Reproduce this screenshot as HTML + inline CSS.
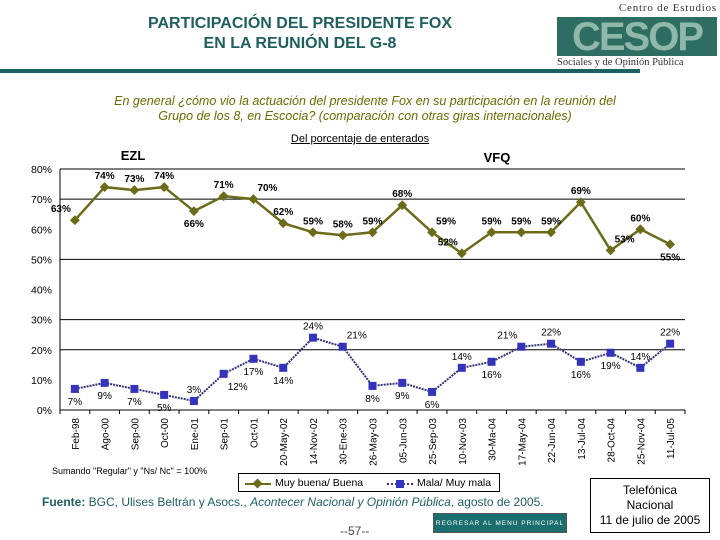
<!DOCTYPE html>
<html><head><meta charset="utf-8"><style>
body{margin:0;width:720px;height:540px;background:#fff;position:relative;overflow:hidden;font-family:"Liberation Sans",sans-serif}
.a{position:absolute}
</style></head><body>
<div class="a" style="left:60px;top:14px;width:480px;text-align:center;color:#1f5f5f;font-weight:bold;font-size:16px;line-height:20px">PARTICIPACIÓN DEL PRESIDENTE FOX<br>EN LA REUNIÓN DEL G-8</div>
<div class="a" style="left:557px;top:2px;width:160px;height:68px">
 <div style="font-family:'Liberation Serif',serif;font-size:11px;color:#333;letter-spacing:0.8px;text-align:right;line-height:13px">Centro de Estudios</div>
 <div style="background:#2e6e62;height:39px;margin-top:2px;color:#8fb8aa;font-weight:bold;font-size:40px;line-height:40px;text-align:center;letter-spacing:-2px">CESOP</div>
 <div style="font-family:'Liberation Serif',serif;font-size:10.5px;color:#333;margin-top:1px;white-space:nowrap">Sociales y de Opinión Pública</div>
</div>
<div class="a" style="left:0;top:69px;width:640px;height:4px;background:#1a6060"></div>
<div class="a" style="left:30px;top:94px;width:670px;text-align:center;color:#6b6b00;font-style:italic;font-size:12.5px;line-height:15px">En general ¿cómo vio la actuación del presidente Fox en su participación en la reunión del<br>Grupo de los 8, en Escocia? (comparación con otras giras internacionales)</div>
<div class="a" style="left:200px;top:133px;width:320px;text-align:center;font-size:11px;text-decoration:underline">Del porcentaje de enterados</div>
<svg class="a" style="left:0;top:0" width="720" height="540" id="chart"></svg>
<div class="a" style="left:52px;top:466px;font-size:9px">Sumando "Regular" y "Ns/ Nc" = 100%</div>
<div class="a" style="left:238px;top:473px;width:262px;height:19px;border:1px solid #000;font-size:10.5px;line-height:19px;box-sizing:border-box">
 <span class="a" style="left:6px;top:9px;width:26px;height:2px;background:#6b6b1a"></span><span class="a" style="left:15px;top:6px;width:7px;height:7px;background:#6b6b1a;transform:rotate(45deg)"></span>
 <span class="a" style="left:36px;top:0">Muy buena/ Buena</span>
 <span class="a" style="left:148px;top:9px;width:26px;border-top:2px dotted #333399"></span><span class="a" style="left:157px;top:6px;width:8px;height:8px;background:#3333bb"></span>
 <span class="a" style="left:178px;top:0">Mala/ Muy mala</span>
</div>
<div class="a" style="left:42px;top:495px;font-size:12px;color:#1f5f5f"><b>Fuente:</b> BGC, Ulises Beltrán y Asocs., <i>Acontecer Nacional y Opinión Pública</i>, agosto de 2005.</div>
<div class="a" style="left:340px;top:524px;font-size:12px;color:#444">--57--</div>
<div class="a" style="left:433px;top:513px;width:134px;height:20px;background:#1a6e6e;border:1px solid #555;color:#fff;font-size:6.5px;letter-spacing:1px;text-align:center;line-height:20px;box-sizing:border-box">REGRESAR AL MENU PRINCIPAL</div>
<div class="a" style="left:590px;top:478px;width:120px;height:55px;border:1px solid #000;box-sizing:border-box;text-align:center;font-size:12px;line-height:15px;padding-top:4px">Telefónica<br>Nacional<br>11 de julio de 2005</div>
<script>
const categories=["Feb-98","Ago-00","Sep-00","Oct-00","Ene-01","Sep-01","Oct-01","20-May-02","14-Nov-02","30-Ene-03","26-May-03","05-Jun-03","25-Sep-03","10-Nov-03","30-Ma-04","17-May-04","22-Jun-04","13-Jul-04","28-Oct-04","25-Nov-04","11-Jul-05"];
const goodValues=[63,74,73,74,66,71,70,62,59,58,59,68,59,52,59,59,59,69,53,60,55];
const badValues=[7,9,7,5,3,12,17,14,24,21,8,9,6,14,16,21,22,16,19,14,22];
const goodLabelPos=["al","a","a","a","b","a","ar","a","a","a","a","a","ar","al","a","a","a","a","ar","a","b"];
const badLabelPos=["b","b","b","b","a","br","b","b","a","ar","b","b","b","a","b","al","a","b","b","a","a"];
const yTicks=[0,10,20,30,40,50,60,70,80];
const gridValues=[20,30,50,70,80];
const svg=document.getElementById('chart');
const NS='http://www.w3.org/2000/svg';
const L=60,R=685,T=169,B=410;
const step=(R-L)/categories.length;
const x=i=>L+step*(i+0.5);
const y=v=>B-(B-T)*v/80;
function mk(t,a,txt){const e=document.createElementNS(NS,t);for(const k in a)e.setAttribute(k,a[k]);if(txt!=null)e.textContent=txt;svg.appendChild(e);return e;}
gridValues.forEach(v=>{const g=mk('line',{x1:L,x2:R,y1:y(v),y2:y(v),stroke:'#000','stroke-width':1});

});
const ax=mk('line',{x1:L,x2:L,y1:T,y2:B,stroke:'#000'});


const xa=mk('line',{x1:L,x2:R,y1:B,y2:B,stroke:'#000'});


yTicks.forEach(v=>{const t=mk('text',{x:L-8,y:y(v)+4,'text-anchor':'end','font-size':10.5},v+'%');

});
for(let i=0;i<=categories.length;i++){mk('line',{x1:L+step*i,x2:L+step*i,y1:B,y2:B+4,stroke:'#000'});}
categories.forEach((c,i)=>{const t=mk('text',{x:0,y:0,'text-anchor':'end','font-size':10,transform:`translate(${x(i)+4},418) rotate(-90)`},c);

});
mk('text',{x:133,y:160,'text-anchor':'middle','font-size':13,'font-weight':'bold'},'EZL');
mk('text',{x:497,y:162,'text-anchor':'middle','font-size':13,'font-weight':'bold'},'VFQ');
const gl=mk('polyline',{points:goodValues.map((v,i)=>x(i)+','+y(v)).join(' '),fill:'none',stroke:'#6b6b1a','stroke-width':2.5});


const bl=mk('polyline',{points:badValues.map((v,i)=>x(i)+','+y(v)).join(' '),fill:'none',stroke:'#333377','stroke-width':2,'stroke-dasharray':'2,1'});


function lp(p,xx,yy){let dx=0,dy=-8,anc='middle';if(p[0]=='b')dy=16;if(p[1]=='l'){dx=-4;anc='end';}if(p[1]=='r'){dx=4;anc='start';}return {x:xx+dx,y:yy+dy,anc};}
goodValues.forEach((v,i)=>{const m=mk('rect',{x:x(i)-3.5,y:y(v)-3.5,width:7,height:7,fill:'#6b6b1a',transform:`rotate(45 ${x(i)} ${y(v)})`});


const p=lp(goodLabelPos[i],x(i),y(v));
const t=mk('text',{x:p.x,y:p.y,'text-anchor':p.anc,'font-size':10,'font-weight':'bold'},v+'%');

});
badValues.forEach((v,i)=>{const m=mk('rect',{x:x(i)-4,y:y(v)-4,width:8,height:8,fill:'#3333bb'});


const p=lp(badLabelPos[i],x(i),y(v));
const t=mk('text',{x:p.x,y:p.y,'text-anchor':p.anc,'font-size':10},v+'%');

});
</script>
</body></html>
